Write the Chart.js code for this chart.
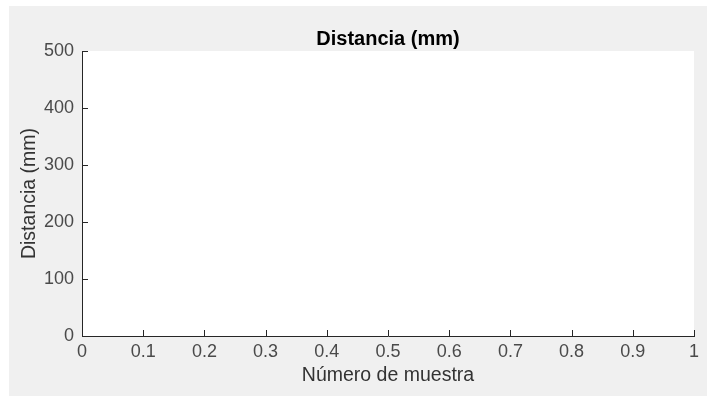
<!DOCTYPE html>
<html lang="es">
<head>
  <meta charset="UTF-8" />
  <title>Distancia (mm)</title>
  <script src="https://cdn.jsdelivr.net/npm/chart.js"></script>
  <style>
    html, body { margin: 0; padding: 0; background: #fff; }
    #wrap { position: relative; width: 707px; height: 396px; }
  </style>
</head>
<body>
  <div id="wrap"><canvas id="distChart"></canvas></div>

  <script>
    // datos (sin muestras todavia)
    const muestras = [];
    const distancias = [];
    const xTicks = [0, 0.1, 0.2, 0.3, 0.4, 0.5, 0.6, 0.7, 0.8, 0.9, 1];
    const yTicks = [0, 100, 200, 300, 400, 500];

    const axisColor = '#262626';
    const labelColor = '#4a4a4a';
    const fontFam = '"Liberation Sans", Arial, Helvetica, sans-serif';

    // fondo gris de la figura + area blanca de los ejes
    const fondo = {
      id: 'fondo',
      beforeDraw(chart) {
        const { ctx, chartArea: a, width, height } = chart;
        ctx.save();
        ctx.fillStyle = '#ffffff';
        ctx.fillRect(0, 0, width, height);
        ctx.fillStyle = '#f0f0f0';
        ctx.fillRect(9, 6, width - 9, height - 6);
        ctx.fillStyle = '#ffffff';
        ctx.fillRect(a.left, a.top, a.right - a.left, a.bottom - a.top);
        ctx.restore();
      }
    };

    // marcas hacia dentro (estilo MATLAB) y titulo centrado en los ejes
    const marcas = {
      id: 'marcas',
      afterDraw(chart) {
        const { ctx, chartArea: a, scales } = chart;
        const len = 6;
        ctx.save();
        ctx.strokeStyle = axisColor;
        ctx.lineWidth = 1;
        ctx.beginPath();
        scales.x.ticks.forEach(t => {
          const px = Math.round(scales.x.getPixelForValue(t.value)) + 0.5;
          ctx.moveTo(px, a.bottom);
          ctx.lineTo(px, a.bottom - len);
        });
        scales.y.ticks.forEach(t => {
          const py = Math.round(scales.y.getPixelForValue(t.value)) + 0.5;
          ctx.moveTo(a.left, py);
          ctx.lineTo(a.left + len, py);
        });
        ctx.stroke();

        ctx.fillStyle = '#000';
        ctx.font = 'bold 20px ' + fontFam;
        ctx.textAlign = 'center';
        ctx.textBaseline = 'alphabetic';
        ctx.fillText('Distancia (mm)', (a.left + a.right) / 2, 45);
        ctx.restore();
      }
    };

    const fmt = v => String(Number(Number(v).toFixed(1)));

    new Chart(document.getElementById('distChart'), {
      type: 'scatter',
      data: {
        datasets: [{
          label: 'Distancia',
          data: muestras.map((m, i) => ({ x: m, y: distancias[i] })),
          borderColor: '#0072bd',
          backgroundColor: '#0072bd'
        }]
      },
      options: {
        responsive: true,
        maintainAspectRatio: false,
        animation: false,
        layout: { padding: { left: 0, top: 51, right: 13, bottom: 0 } },
        plugins: {
          legend: { display: false },
          tooltip: { enabled: false },
          title: { display: false }
        },
        scales: {
          x: {
            type: 'linear',
            min: xTicks[0],
            max: xTicks[xTicks.length - 1],
            afterBuildTicks: s => { s.ticks = xTicks.map(v => ({ value: v })); },
            afterFit: s => { s.height = 60; },
            grid: { display: false, drawTicks: false },
            border: { display: true, color: axisColor, width: 1 },
            ticks: {
              color: labelColor,
              padding: 5,
              maxRotation: 0,
              autoSkip: false,
              font: { family: fontFam, size: 18 },
              callback: v => fmt(v)
            },
            title: {
              display: true,
              text: 'Número de muestra',
              color: '#333333',
              font: { family: fontFam, size: 19.5 },
              padding: { top: 0, bottom: 8.5 }
            }
          },
          y: {
            min: yTicks[0],
            max: yTicks[yTicks.length - 1],
            afterBuildTicks: s => { s.ticks = yTicks.map(v => ({ value: v })); },
            afterFit: s => { s.width = 82; },
            grid: { display: false, drawTicks: false },
            border: { display: true, color: axisColor, width: 1 },
            ticks: {
              color: labelColor,
              padding: 8,
              font: { family: fontFam, size: 18 },
              callback: v => fmt(v)
            },
            title: {
              display: true,
              text: 'Distancia (mm)',
              color: '#333333',
              font: { family: fontFam, size: 19.5 },
              padding: { top: 17.5, bottom: 0 }
            }
          }
        }
      },
      plugins: [fondo, marcas]
    });
  </script>
</body>
</html>
